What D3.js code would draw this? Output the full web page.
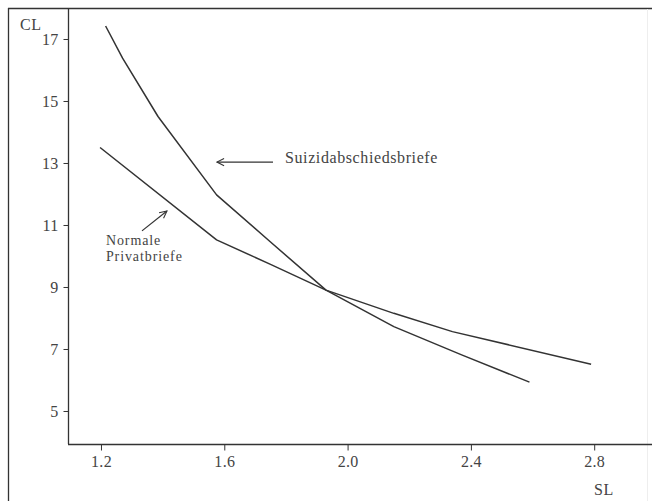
<!DOCTYPE html>
<html>
<head>
<meta charset="utf-8">
<script src="https://cdn.jsdelivr.net/npm/d3@7"></script>
<style>
  html, body { margin: 0; padding: 0; background: #fff; }
  svg { display: block; }
  text { font-family: "Liberation Serif", "DejaVu Serif", serif; fill: #444; }
</style>
</head>
<body>
<svg id="chart" width="652" height="501"></svg>
<script>
// ---- data ----
const suizidX = [1.215, 1.27, 1.385, 1.575, 1.75, 1.93, 2.15, 2.37, 2.59];
const suizidY = [17.42, 16.38, 14.5, 11.97, 10.45, 8.9, 7.72, 6.81, 5.93];
const normalX = [1.197, 1.575, 1.75, 1.93, 2.15, 2.34, 2.79];
const normalY = [13.5, 10.52, 9.73, 8.9, 8.15, 7.56, 6.51];
const xTicks = [1.2, 1.6, 2.0, 2.4, 2.8];
const yTicks = [5, 7, 9, 11, 13, 15, 17];
const labelSuizid = "Suizidabschiedsbriefe";
const labelNormal = ["Normale", "Privatbriefe"];

// ---- layout ----
const svg = d3.select("#chart");
const pLeft = 68, pRight = 652, pTop = 8, pBottom = 444;
const x = d3.scaleLinear().domain([1.093, 2.9875]).range([pLeft, pRight]);
const y = d3.scaleLinear().domain([3.935, 18.0]).range([pBottom, pTop]);

// outer frame
svg.append("line").attr("x1", 8.5).attr("x2", 8.5).attr("y1", 8).attr("y2", 501)
  .attr("stroke", "#333").attr("stroke-width", 1.3);
svg.append("line").attr("x1", 8).attr("x2", 652).attr("y1", 8.5).attr("y2", 8.5)
  .attr("stroke", "#333").attr("stroke-width", 1.3);
svg.append("line").attr("x1", 647.5).attr("x2", 647.5).attr("y1", 9).attr("y2", 501)
  .attr("stroke", "#eee").attr("stroke-width", 1);

// axes
const yAxis = d3.axisLeft(y).tickValues(yTicks).tickSize(5).tickSizeOuter(0).tickPadding(5)
  .tickFormat(d3.format("d"));
const gy = svg.append("g").attr("transform", `translate(${pLeft + 0.5},0)`).call(yAxis);
const xAxis = d3.axisBottom(x).tickValues(xTicks).tickSize(6).tickSizeOuter(0).tickPadding(5)
  .tickFormat(d3.format(".1f"));
const gx = svg.append("g").attr("transform", `translate(0,${pBottom + 0.5})`).call(xAxis);
[gx, gy].forEach(g => {
  g.selectAll("path.domain").attr("stroke", "#333").attr("stroke-width", 1.3);
  g.selectAll(".tick line").attr("stroke", "#333").attr("stroke-width", 1);
  g.selectAll(".tick text").style("font-family", '"Liberation Serif", serif')
    .style("font-size", "16px").style("letter-spacing", "0.3px").attr("fill", "#444");
});
gy.select("path.domain").attr("d", `M0,${pTop}V${pBottom}`);
gx.select("path.domain").attr("d", `M${pLeft},0H${pRight}`);

// axis titles
svg.append("text").attr("x", 20).attr("y", 30).style("font-size", "16px").style("letter-spacing", "0.5px").text("CL");
svg.append("text").attr("x", 594).attr("y", 495).style("font-size", "16px").style("letter-spacing", "0.5px").text("SL");

// lines
const line = d3.line().x(d => x(d[0])).y(d => y(d[1]));
const suizid = suizidX.map((v, i) => [v, suizidY[i]]);
const normal = normalX.map((v, i) => [v, normalY[i]]);
[suizid, normal].forEach(data => {
  svg.append("path").datum(data).attr("d", line)
    .attr("fill", "none").attr("stroke", "#333").attr("stroke-width", 1.5)
    .attr("stroke-linejoin", "round");
});

// arrow marker
svg.append("defs").append("marker").attr("id", "arr")
  .attr("viewBox", "0 0 10 10").attr("refX", 9).attr("refY", 5)
  .attr("markerWidth", 9).attr("markerHeight", 9).attr("markerUnits", "userSpaceOnUse")
  .attr("orient", "auto")
  .append("path").attr("d", "M1,1L9,5L1,9").attr("fill", "none").attr("stroke", "#333").attr("stroke-width", 1.2);

// annotations
svg.append("line").attr("x1", x(1.758)).attr("y1", y(13.03)).attr("x2", x(1.576)).attr("y2", y(13.03))
  .attr("stroke", "#333").attr("stroke-width", 1.2).attr("marker-end", "url(#arr)");
svg.append("text").attr("x", x(1.797)).attr("y", y(13.0)).style("font-size", "16px")
  .style("letter-spacing", "0.6px").text(labelSuizid);

svg.append("line").attr("x1", x(1.333)).attr("y1", y(10.81)).attr("x2", x(1.414)).attr("y2", y(11.45))
  .attr("stroke", "#333").attr("stroke-width", 1.2).attr("marker-end", "url(#arr)");
svg.append("text").attr("x", x(1.216)).attr("y", y(10.35)).style("font-size", "14px")
  .style("letter-spacing", "0.9px").text(labelNormal[0]);
svg.append("text").attr("x", x(1.216)).attr("y", y(9.85)).style("font-size", "14px")
  .style("letter-spacing", "0.9px").text(labelNormal[1]);
</script>
</body>
</html>
